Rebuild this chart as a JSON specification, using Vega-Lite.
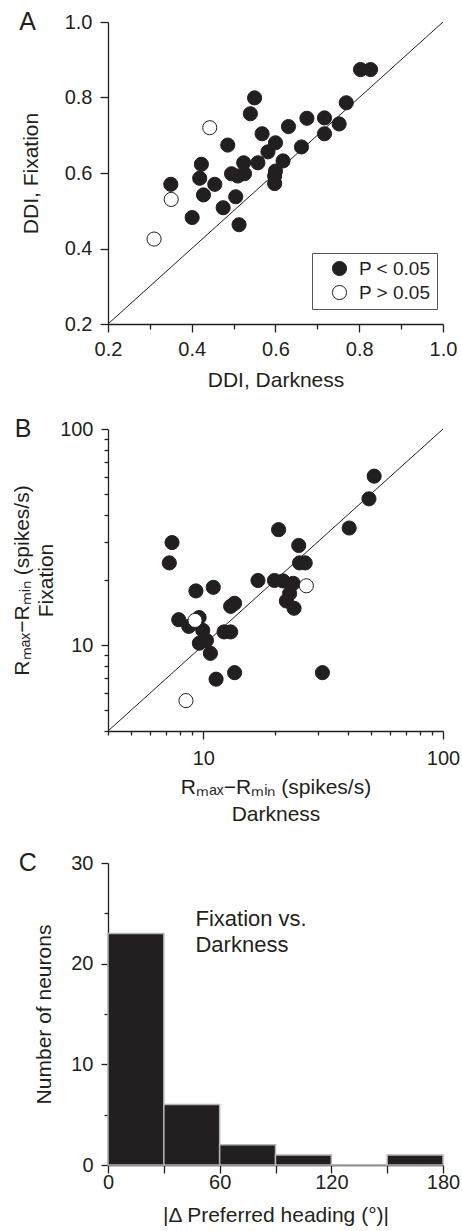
{
  "$schema": "https://vega.github.io/schema/vega-lite/v6.json",
  "padding": {"left": 11, "top": 10, "right": 2, "bottom": 2},
  "spacing": 27,
  "config": {
    "font": "Liberation Sans",
    "view": {"stroke": null},
    "axis": {
      "grid": false, "domainColor": "#231f20", "domainWidth": 1.3,
      "tickColor": "#231f20", "tickWidth": 1.3,
      "labelFontSize": 20, "labelColor": "#231f20", "labelFont": "Liberation Sans",
      "titleFont": "Liberation Sans", "titleFontSize": 21, "titleFontWeight": "normal", "titleColor": "#231f20",
      "labelFlush": false, "labelOverlap": false, "labelBound": false
    },
    "title": {"fontSize": 25, "fontWeight": "normal", "color": "#231f20", "anchor": "start", "frame": "bounds", "baseline": "top", "offset": 0, "font": "Liberation Sans"}
  },
  "vconcat": [
    {
      "width": 335, "height": 302,
      "title": {"text": "A", "dx": -1, "dy": 27},
      "layer": [
        {
          "data": {"values": [{"x": 0.2, "y": 0.2}, {"x": 1.0, "y": 1.0}]},
          "mark": {"type": "line", "color": "#231f20", "strokeWidth": 1},
          "encoding": {
            "x": {"field": "x", "type": "quantitative", "scale": {"domain": [0.2, 1.0], "nice": false, "zero": false},
              "axis": {"title": "DDI, Darkness", "values": [0.2, 0.3, 0.4, 0.5, 0.6, 0.7, 0.8, 0.9, 1.0],
                "labelExpr": "(round(datum.value*10)%2==0) ? format(datum.value,'.1f') : ''",
                "tickSize": {"condition": {"test": "round(datum.value*10)%2==0", "value": 8}, "value": 5},
                "labelPadding": 7, "titlePadding": 10}},
            "y": {"field": "y", "type": "quantitative", "scale": {"domain": [0.2, 1.0], "nice": false, "zero": false},
              "axis": {"title": "DDI, Fixation", "values": [0.2, 0.3, 0.4, 0.5, 0.6, 0.7, 0.8, 0.9, 1.0],
                "labelExpr": "(round(datum.value*10)%2==0) ? format(datum.value,'.1f') : ''",
                "tickSize": {"condition": {"test": "round(datum.value*10)%2==0", "value": 8}, "value": 5},
                "labelPadding": 8, "titlePadding": 23}}
          }
        },
        {
          "data": {"values": [
            {"x": 0.803, "y": 0.874, "p": "P < 0.05"}, {"x": 0.827, "y": 0.874, "p": "P < 0.05"},
            {"x": 0.550, "y": 0.799, "p": "P < 0.05"}, {"x": 0.540, "y": 0.757, "p": "P < 0.05"},
            {"x": 0.769, "y": 0.786, "p": "P < 0.05"}, {"x": 0.675, "y": 0.745, "p": "P < 0.05"},
            {"x": 0.717, "y": 0.746, "p": "P < 0.05"}, {"x": 0.752, "y": 0.730, "p": "P < 0.05"},
            {"x": 0.717, "y": 0.704, "p": "P < 0.05"}, {"x": 0.631, "y": 0.723, "p": "P < 0.05"},
            {"x": 0.568, "y": 0.704, "p": "P < 0.05"}, {"x": 0.600, "y": 0.680, "p": "P < 0.05"},
            {"x": 0.662, "y": 0.669, "p": "P < 0.05"}, {"x": 0.582, "y": 0.656, "p": "P < 0.05"},
            {"x": 0.486, "y": 0.674, "p": "P < 0.05"}, {"x": 0.423, "y": 0.623, "p": "P < 0.05"},
            {"x": 0.419, "y": 0.586, "p": "P < 0.05"}, {"x": 0.455, "y": 0.570, "p": "P < 0.05"},
            {"x": 0.350, "y": 0.570, "p": "P < 0.05"}, {"x": 0.428, "y": 0.542, "p": "P < 0.05"},
            {"x": 0.401, "y": 0.482, "p": "P < 0.05"}, {"x": 0.475, "y": 0.508, "p": "P < 0.05"},
            {"x": 0.505, "y": 0.537, "p": "P < 0.05"}, {"x": 0.513, "y": 0.463, "p": "P < 0.05"},
            {"x": 0.495, "y": 0.598, "p": "P < 0.05"}, {"x": 0.510, "y": 0.592, "p": "P < 0.05"},
            {"x": 0.526, "y": 0.598, "p": "P < 0.05"}, {"x": 0.524, "y": 0.627, "p": "P < 0.05"},
            {"x": 0.558, "y": 0.627, "p": "P < 0.05"}, {"x": 0.618, "y": 0.632, "p": "P < 0.05"},
            {"x": 0.600, "y": 0.605, "p": "P < 0.05"}, {"x": 0.598, "y": 0.592, "p": "P < 0.05"},
            {"x": 0.598, "y": 0.572, "p": "P < 0.05"},
            {"x": 0.443, "y": 0.720, "p": "P > 0.05"}, {"x": 0.351, "y": 0.530, "p": "P > 0.05"},
            {"x": 0.310, "y": 0.425, "p": "P > 0.05"}
          ]},
          "mark": {"type": "point", "shape": "circle", "filled": true, "size": 200, "stroke": "#231f20", "strokeWidth": 1, "opacity": 1},
          "encoding": {
            "x": {"field": "x", "type": "quantitative"},
            "y": {"field": "y", "type": "quantitative"},
            "fill": {"field": "p", "type": "nominal",
              "scale": {"domain": ["P < 0.05", "P > 0.05"], "range": ["#231f20", "#ffffff"]},
              "legend": {"title": null, "orient": "none", "legendX": 204, "legendY": 231,
                "strokeColor": "#555555", "padding": 6, "symbolOffset": 12, "symbolSize": 200,
                "symbolStrokeColor": "#231f20", "symbolStrokeWidth": 1, "symbolType": "circle",
                "labelFontSize": 19, "labelFont": "Liberation Sans", "labelColor": "#231f20", "labelOffset": 10, "rowPadding": 4}}
          }
        }
      ]
    },
    {
      "width": 335, "height": 302,
      "title": {"text": "B", "dx": 3, "dy": 27},
      "layer": [
        {
          "data": {"values": [{"x": 4, "y": 4}, {"x": 100, "y": 100}]},
          "mark": {"type": "line", "color": "#231f20", "strokeWidth": 1},
          "encoding": {
            "x": {"field": "x", "type": "quantitative", "scale": {"type": "log", "domain": [4, 100], "nice": false},
              "axis": {"title": ["Rₘₐₓ−Rₘᵢₙ (spikes/s)", "Darkness"], "titleLineHeight": 27,
                "values": [4, 5, 6, 7, 8, 9, 10, 20, 30, 40, 50, 60, 70, 80, 90, 100],
                "labelExpr": "(datum.value==10||datum.value==100) ? format(datum.value,'d') : ''",
                "tickSize": {"condition": {"test": "datum.value==10||datum.value==100", "value": 8}, "value": 4},
                "labelPadding": 9, "titlePadding": 8}},
            "y": {"field": "y", "type": "quantitative", "scale": {"type": "log", "domain": [4, 100], "nice": false},
              "axis": {"title": ["Rₘₐₓ−Rₘᵢₙ (spikes/s)", "Fixation"], "titleLineHeight": 24,
                "values": [4, 5, 6, 7, 8, 9, 10, 20, 30, 40, 50, 60, 70, 80, 90, 100],
                "labelExpr": "(datum.value==10||datum.value==100) ? format(datum.value,'d') : ''",
                "tickSize": {"condition": {"test": "datum.value==10||datum.value==100", "value": 7}, "value": 4},
                "labelPadding": 8, "titlePadding": 3}}
          }
        },
        {
          "data": {"values": [
            {"x": 51.6, "y": 60.5, "p": "P < 0.05"}, {"x": 49.1, "y": 47.5, "p": "P < 0.05"},
            {"x": 40.6, "y": 34.8, "p": "P < 0.05"}, {"x": 20.6, "y": 34.2, "p": "P < 0.05"},
            {"x": 25.0, "y": 28.9, "p": "P < 0.05"}, {"x": 25.2, "y": 24.0, "p": "P < 0.05"},
            {"x": 26.6, "y": 24.0, "p": "P < 0.05"}, {"x": 7.40, "y": 29.8, "p": "P < 0.05"},
            {"x": 7.21, "y": 24.0, "p": "P < 0.05"}, {"x": 9.31, "y": 17.8, "p": "P < 0.05"},
            {"x": 11.0, "y": 18.5, "p": "P < 0.05"}, {"x": 16.9, "y": 19.9, "p": "P < 0.05"},
            {"x": 19.8, "y": 19.9, "p": "P < 0.05"}, {"x": 21.5, "y": 19.8, "p": "P < 0.05"},
            {"x": 23.7, "y": 19.3, "p": "P < 0.05"}, {"x": 22.9, "y": 17.3, "p": "P < 0.05"},
            {"x": 22.2, "y": 16.0, "p": "P < 0.05"}, {"x": 23.9, "y": 14.8, "p": "P < 0.05"},
            {"x": 13.5, "y": 15.6, "p": "P < 0.05"}, {"x": 13.0, "y": 15.1, "p": "P < 0.05"},
            {"x": 7.89, "y": 13.1, "p": "P < 0.05"}, {"x": 8.69, "y": 12.2, "p": "P < 0.05"},
            {"x": 9.94, "y": 11.7, "p": "P < 0.05"}, {"x": 9.62, "y": 10.2, "p": "P < 0.05"},
            {"x": 10.3, "y": 10.5, "p": "P < 0.05"}, {"x": 10.7, "y": 9.15, "p": "P < 0.05"},
            {"x": 12.2, "y": 11.5, "p": "P < 0.05"}, {"x": 13.0, "y": 11.5, "p": "P < 0.05"},
            {"x": 11.3, "y": 6.95, "p": "P < 0.05"}, {"x": 13.5, "y": 7.45, "p": "P < 0.05"},
            {"x": 31.4, "y": 7.45, "p": "P < 0.05"}, {"x": 9.6, "y": 13.4, "p": "P < 0.05"},
            {"x": 9.23, "y": 13.0, "p": "P > 0.05"}, {"x": 26.9, "y": 18.8, "p": "P > 0.05"},
            {"x": 8.46, "y": 5.53, "p": "P > 0.05"}
          ]},
          "mark": {"type": "point", "shape": "circle", "filled": true, "size": 200, "stroke": "#231f20", "strokeWidth": 1, "opacity": 1},
          "encoding": {
            "x": {"field": "x", "type": "quantitative"},
            "y": {"field": "y", "type": "quantitative"},
            "fill": {"field": "p", "type": "nominal",
              "scale": {"domain": ["P < 0.05", "P > 0.05"], "range": ["#231f20", "#ffffff"]},
              "legend": null}
          }
        }
      ]
    },
    {
      "width": 335, "height": 302,
      "title": {"text": "C", "dx": -15, "dy": 27},
      "layer": [
        {
          "data": {"values": [
            {"start": 0, "end": 30, "count": 23},
            {"start": 30, "end": 60, "count": 6},
            {"start": 60, "end": 90, "count": 2},
            {"start": 90, "end": 120, "count": 1},
            {"start": 120, "end": 150, "count": 0},
            {"start": 150, "end": 180, "count": 1}
          ]},
          "mark": {"type": "rect", "fill": "#231f20", "stroke": "#b4b4b4", "strokeWidth": 1.5},
          "encoding": {
            "x": {"field": "start", "type": "quantitative", "scale": {"domain": [0, 180], "nice": false},
              "axis": {"title": "|Δ Preferred heading (°)|", "values": [0, 30, 60, 90, 120, 150, 180],
                "labelExpr": "(datum.value%60==0) ? format(datum.value,'d') : ''",
                "tickSize": 8, "labelPadding": -1, "titlePadding": 12}},
            "x2": {"field": "end"},
            "y": {"field": "count", "type": "quantitative", "scale": {"domain": [0, 30], "nice": false},
              "axis": {"title": "Number of neurons", "values": [0, 5, 10, 15, 20, 25, 30],
                "labelExpr": "(datum.value%10==0) ? format(datum.value,'d') : ''",
                "tickSize": {"condition": {"test": "datum.value%10==0", "value": 7}, "value": 4},
                "labelPadding": 8, "titlePadding": 16}},
            "y2": {"datum": 0}
          }
        },
        {
          "data": {"values": [{}]},
          "mark": {"type": "text", "text": ["Fixation  vs.", "Darkness"], "align": "left", "baseline": "alphabetic",
            "fontSize": 22, "lineHeight": 26, "color": "#231f20", "font": "Liberation Sans"},
          "encoding": {
            "x": {"datum": 47, "type": "quantitative"},
            "y": {"datum": 23.7, "type": "quantitative"}
          }
        }
      ]
    }
  ]
}
